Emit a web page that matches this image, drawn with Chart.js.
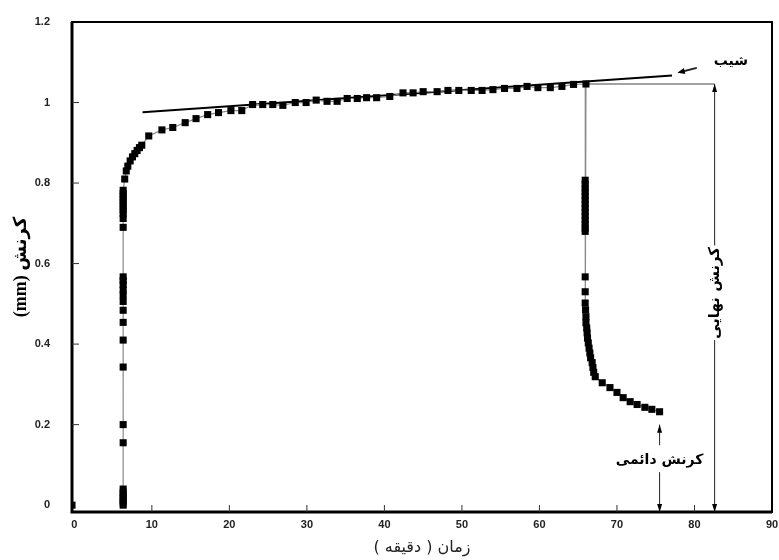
<!DOCTYPE html>
<html>
<head>
<meta charset="utf-8">
<script src="https://cdn.jsdelivr.net/npm/chart.js@4.4.0/dist/chart.umd.min.js"></script>
<style>
  html, body { margin: 0; padding: 0; background: #fff; }
  #wrap { width: 779px; height: 560px; }
</style>
</head>
<body>
<div id="wrap"><canvas id="creepChart"></canvas></div>
<script>
// نقطه شروع
const startTime = [-0.3];
const startStrain = [0];

// بارگذاری : زمان (دقیقه) و کرنش (mm)
const loadTime = [
  6.3, 6.3, 6.3, 6.3, 6.3, 6.3, 6.3, 6.3, 6.3, 6.3, 6.3, 6.3, 6.3, 6.3, 6.3, 6.3, 6.3, 6.3, 6.3,
  6.3, 6.3, 6.3, 6.3, 6.3, 6.3, 6.3, 6.3, 6.3, 6.3,
  6.5, 6.7, 6.9, 7.2, 7.5, 7.8, 8.1, 8.4, 8.7, 9.6, 11.3, 12.7, 14.3, 15.7, 17.2, 18.6, 20.2,
  21.6, 23.0, 24.3, 25.6, 26.9, 28.5, 29.9, 31.2, 32.6, 33.9, 35.2, 36.5, 37.7, 39.0, 40.7,
  42.4, 43.7, 45.0, 46.8, 48.2, 49.6, 51.2, 52.6, 54.0, 55.5, 57.1, 58.4, 59.8, 61.4, 62.9,
  64.4, 66.0
];
const loadStrain = [
  0, 0.006, 0.012, 0.018, 0.025, 0.032, 0.04, 0.155, 0.2, 0.343, 0.41, 0.454, 0.484, 0.506, 0.522,
  0.535, 0.548, 0.558, 0.567, 0.69, 0.712, 0.724, 0.733, 0.742, 0.75, 0.758, 0.766, 0.774, 0.782,
  0.81, 0.83, 0.842, 0.855, 0.865, 0.873, 0.881, 0.888, 0.894, 0.917, 0.932, 0.938, 0.95, 0.96,
  0.97, 0.975, 0.98, 0.98, 0.995, 0.995, 0.995, 0.993, 1.0, 1.0, 1.006, 1.003, 1.003, 1.01, 1.01,
  1.012, 1.012, 1.015, 1.024, 1.024, 1.027, 1.027, 1.03, 1.03, 1.03, 1.03, 1.032, 1.035, 1.035,
  1.04, 1.037, 1.037, 1.04, 1.045, 1.046
];

// باربرداری
const unloadTime = [
  65.9, 65.9, 65.9, 65.9, 65.9, 65.9, 65.9, 65.9, 65.9, 65.9, 65.9, 65.9, 65.9, 65.9,
  65.9, 65.9, 65.9, 65.95, 66.0, 66.0, 66.1, 66.15, 66.2, 66.3, 66.4, 66.5, 66.6, 66.8, 66.9,
  67.0, 67.2, 68.1, 69.1, 70.0, 70.8, 71.7, 72.6, 73.6, 74.5, 75.5
];
const unloadStrain = [
  0.807, 0.797, 0.787, 0.778, 0.768, 0.758, 0.748, 0.738, 0.728, 0.718, 0.708, 0.698, 0.688, 0.68,
  0.567, 0.53, 0.502, 0.485, 0.468, 0.453, 0.44, 0.428, 0.415, 0.403, 0.39, 0.378, 0.366, 0.354,
  0.342, 0.33, 0.319, 0.304, 0.292, 0.28, 0.267, 0.257, 0.25, 0.243, 0.238, 0.232
];

// خط شیب و تراز کرنش نهایی
const slopeTime = [8.8, 77.1];
const slopeStrain = [0.976, 1.067];
const levelTime = [66.0, 82.6];
const levelStrain = [1.046, 1.046];

const xTicks = [0, 10, 20, 30, 40, 50, 60, 70, 80, 90];
const yTicks = [0, 0.2, 0.4, 0.6, 0.8, 1, 1.2];
const yTickLabels = ["0", "0.2", "0.4", "0.6", "0.8", "1", "1.2"];

const toPoints = (xs, ys) => xs.map((x, i) => ({x: x, y: ys[i]}));

const arrowHead = (ctx, px, py, dir) => {
  ctx.beginPath();
  ctx.moveTo(px, py);
  ctx.lineTo(px - 2.5, py + 8 * dir);
  ctx.lineTo(px + 2.5, py + 8 * dir);
  ctx.closePath();
  ctx.fill();
};

// کادر، تیک های داخلی، فلش ها و متن ها
const annotations = {
  id: "annotations",
  afterDatasetsDraw(chart) {
    const {ctx, chartArea: a, scales: {x, y}} = chart;
    ctx.save();
    ctx.strokeStyle = "#000";
    ctx.fillStyle = "#000";

    ctx.lineWidth = 2;
    ctx.strokeRect(a.left, a.top, a.right - a.left, a.bottom - a.top);
    ctx.lineWidth = 3;
    ctx.beginPath();
    ctx.moveTo(a.left, a.top);
    ctx.lineTo(a.left, a.bottom);
    ctx.lineTo(a.right, a.bottom);
    ctx.stroke();

    ctx.lineWidth = 1;
    ctx.strokeStyle = "#333";
    ctx.beginPath();
    yTicks.slice(1, -1).forEach((v) => {
      ctx.moveTo(a.left, y.getPixelForValue(v));
      ctx.lineTo(a.left + 7, y.getPixelForValue(v));
    });
    xTicks.slice(1, -1).forEach((v) => {
      ctx.moveTo(x.getPixelForValue(v), a.bottom);
      ctx.lineTo(x.getPixelForValue(v), a.bottom - 7);
    });
    ctx.stroke();

    // کرنش نهایی
    ctx.strokeStyle = "#222";
    const fx = x.getPixelForValue(82.6);
    const fTop = y.getPixelForValue(1.046);
    ctx.beginPath();
    ctx.moveTo(fx, a.bottom);
    ctx.lineTo(fx, y.getPixelForValue(0.41));
    ctx.moveTo(fx, y.getPixelForValue(0.645));
    ctx.lineTo(fx, fTop);
    ctx.stroke();
    arrowHead(ctx, fx, fTop, 1);
    arrowHead(ctx, fx, a.bottom, -1);

    // کرنش دائمی
    const px = x.getPixelForValue(75.5);
    const pTop = y.getPixelForValue(0.2);
    ctx.beginPath();
    ctx.moveTo(px, a.bottom);
    ctx.lineTo(px, y.getPixelForValue(0.082));
    ctx.moveTo(px, y.getPixelForValue(0.149));
    ctx.lineTo(px, pTop);
    ctx.stroke();
    arrowHead(ctx, px, pTop, 1);
    arrowHead(ctx, px, a.bottom, -1);

    // فلش شیب
    const sx0 = x.getPixelForValue(80.3), sy0 = y.getPixelForValue(1.086);
    const sx1 = x.getPixelForValue(77.8), sy1 = y.getPixelForValue(1.074);
    ctx.lineWidth = 2;
    ctx.beginPath();
    ctx.moveTo(sx0, sy0);
    ctx.lineTo(sx1 + 4, sy1 - 1);
    ctx.stroke();
    const ang = Math.atan2(sy1 - sy0, sx1 - sx0);
    ctx.beginPath();
    ctx.moveTo(sx1, sy1);
    ctx.lineTo(sx1 - 8 * Math.cos(ang - 0.4), sy1 - 8 * Math.sin(ang - 0.4));
    ctx.lineTo(sx1 - 8 * Math.cos(ang + 0.4), sy1 - 8 * Math.sin(ang + 0.4));
    ctx.closePath();
    ctx.fill();

    ctx.font = "bold 14px 'DejaVu Sans'";
    ctx.textAlign = "center";
    ctx.textBaseline = "middle";
    ctx.fillText("شیب", x.getPixelForValue(84.7), y.getPixelForValue(1.103));
    ctx.fillText("کرنش دائمی", px, y.getPixelForValue(0.112));

    ctx.font = "bold 15px 'DejaVu Sans'";
    ctx.translate(fx, y.getPixelForValue(0.527));
    ctx.rotate(-Math.PI / 2);
    ctx.fillText("کرنش نهایی", 0, 0);
    ctx.restore();
  },
};

new Chart(document.getElementById("creepChart"), {
  type: "scatter",
  data: {
    datasets: [
      {
        label: "شروع",
        data: toPoints(startTime, startStrain),
        pointStyle: "rect",
        pointRadius: 5,
        pointBackgroundColor: "#000",
        pointBorderWidth: 0,
      },
      {
        label: "کرنش",
        data: toPoints(loadTime.concat(unloadTime), loadStrain.concat(unloadStrain)),
        showLine: true,
        borderColor: "#8a8a8a",
        borderWidth: 1.2,
        pointStyle: "rect",
        pointRadius: 5,
        pointBackgroundColor: "#000",
        pointBorderWidth: 0,
      },
      {
        label: "شیب",
        data: toPoints(slopeTime, slopeStrain),
        showLine: true,
        borderColor: "#000",
        borderWidth: 2,
        pointRadius: 0,
      },
      {
        label: "تراز",
        data: toPoints(levelTime, levelStrain),
        showLine: true,
        borderColor: "#444",
        borderWidth: 1,
        pointRadius: 0,
      },
    ],
  },
  options: {
    responsive: true,
    maintainAspectRatio: false,
    animation: false,
    layout: {padding: {left: 0, right: 7, top: 22, bottom: 0}},
    plugins: {legend: {display: false}, tooltip: {enabled: false}},
    scales: {
      x: {
        type: "linear",
        min: -0.3,
        max: 90,
        grid: {display: false, drawTicks: false},
        border: {display: false},
        afterBuildTicks: (scale) => {
          scale.ticks = xTicks.map((v) => ({value: v}));
        },
        afterFit: (scale) => {
          scale.height = 48;
          scale.paddingLeft = 0;
          scale.paddingRight = 0;
        },
        ticks: {
          padding: 6,
          maxRotation: 0,
          color: "#222",
          font: {family: "'Liberation Sans'", size: 11, weight: "bold"},
        },
        title: {
          display: true,
          text: "\u202Bزمان ( دقیقه )\u202C",
          color: "#222",
          padding: {top: 0, bottom: 3},
          font: {family: "'DejaVu Sans'", size: 16},
        },
      },
      y: {
        type: "linear",
        min: -0.017,
        max: 1.2,
        grid: {display: false, drawTicks: false},
        border: {display: false},
        afterBuildTicks: (scale) => {
          scale.ticks = yTicks.map((v) => ({value: v}));
        },
        afterFit: (scale) => {
          scale.width = 72;
          scale.paddingTop = 0;
          scale.paddingBottom = 0;
        },
        ticks: {
          padding: 22,
          color: "#222",
          font: {family: "'Liberation Sans'", size: 11, weight: "bold"},
          callback: (value) => yTickLabels[yTicks.indexOf(value)],
        },
        title: {
          display: true,
          text: "\u202Bکرنش (mm)\u202C",
          color: "#000",
          padding: {top: 11, bottom: 0},
          font: {family: "'Liberation Serif', 'DejaVu Sans'", size: 18, weight: "bold"},
        },
      },
    },
  },
  plugins: [annotations],
});
</script>
</body>
</html>
